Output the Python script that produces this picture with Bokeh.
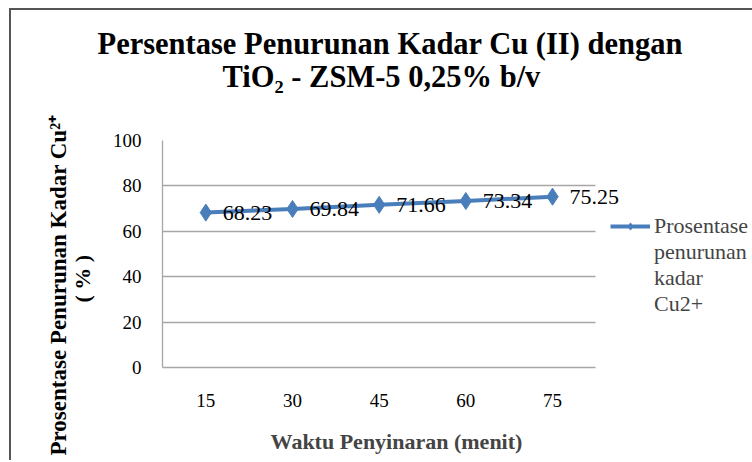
from bokeh.plotting import figure
from bokeh.models import (ColumnDataSource, Range1d, Legend, LegendItem, Title, LabelSet,
                          FixedTicker)
from bokeh.embed import file_html
from bokeh.resources import INLINE

waktu = [15, 30, 45, 60, 75]
persen = [68.23, 69.84, 71.66, 73.34, 75.25]
label_teks = ["68.23", "69.84", "71.66", "73.34", "75.25"]
y_ticks = [0, 20, 40, 60, 80, 100]
legend_lines = ["Prosentase", "penurunan", "kadar", "Cu2+"]

SERIF = "Liberation Serif"
BLUE = "#4A7EBB"
GRID = "#A6A6A6"

src = ColumnDataSource(dict(x=waktu, y=persen, t=label_teks))

p = figure(frame_width=468, frame_height=227, x_range=Range1d(7.5, 88.5), y_range=Range1d(0, 100),
           output_backend="svg", toolbar_location=None,
           min_border_left=151, min_border_right=121, min_border_top=130, min_border_bottom=93)
p.styles = {"border-left": "2px solid #555555", "border-top": "2px solid #555555",
            "margin-left": "9px", "margin-top": "8px"}

p.title.visible = False
p.add_layout(Title(text="TiO\u2082 - ZSM-5 0,25% b/v", align="left", offset=60, text_font=SERIF,
                   text_font_size="30.5px", text_font_style="bold", text_color="black",
                   standoff=94), "above")
p.add_layout(Title(text="Persentase Penurunan Kadar Cu (II) dengan", align="left", offset=-65,
                   text_font=SERIF, text_font_size="30.5px", text_font_style="bold",
                   text_color="black", standoff=-101), "above")

p.outline_line_color = None
p.xgrid.grid_line_color = None
p.ygrid.grid_line_color = GRID
p.ygrid.grid_line_width = 1.3
p.ygrid.cross_bounds = (7.5, 82.5)
p.yaxis.ticker = FixedTicker(ticks=y_ticks)
p.xaxis.ticker = FixedTicker(ticks=waktu)
p.xaxis.bounds = (7.5, 82.5)
for ax in (p.xaxis, p.yaxis):
    ax.axis_line_color = GRID
    ax.axis_line_width = 1.3
    ax.major_tick_line_color = None
    ax.minor_tick_line_color = None
    ax.major_label_text_font = SERIF
    ax.major_label_text_font_size = "19px"
    ax.major_label_text_color = "black"
p.yaxis.major_label_standoff = 15
p.xaxis.major_label_standoff = 20
p.xaxis.axis_label = "Waktu Penyinaran (menit)"
p.xaxis.axis_label_text_font = SERIF
p.xaxis.axis_label_text_font_style = "bold"
p.xaxis.axis_label_text_font_size = "22px"
p.xaxis.axis_label_standoff = 19
p.xaxis.axis_label_align = "center"

# data labels (under the line)
p.add_layout(LabelSet(x="x", y="y", text="t", source=src, x_offset=17, text_baseline="middle",
                      text_font=SERIF, text_font_size="22px", text_color="black",
                      level="glyph"))

ln = p.line(x="x", y="y", source=src, line_color=BLUE, line_width=4)
mk = p.scatter(x="x", y="y", source=src, marker="diamond", size=17,
               fill_color=BLUE, line_color=BLUE)
# placeholder renderer so the legend text can continue below the marker line
blank = p.line(x=[], y=[], line_alpha=0)

# y-axis title (two lines, stacked outward from the axis)
p.add_layout(Title(text="( % )", align="left", offset=65, text_font=SERIF,
                   text_font_size="22px", text_font_style="bold", text_color="black",
                   standoff=30), "left")
p.add_layout(Title(text="Prosentase Penurunan Kadar Cu\u00b2\u207a", align="left", offset=-88,
                   text_font=SERIF, text_font_size="23px", text_font_style="bold",
                   text_color="black", standoff=-36), "left")

items = [LegendItem(label=legend_lines[0], renderers=[ln, mk])]
items += [LegendItem(label=t, renderers=[blank]) for t in legend_lines[1:]]
legend = Legend(items=items, location=(-20, 50), border_line_color=None, background_fill_alpha=0,
                label_text_font=SERIF, label_text_font_size="22px",
                label_height=18, glyph_height=18,
                glyph_width=40, label_standoff=4, padding=0, margin=0, spacing=0)
p.add_layout(legend, "right")

open("out.html", "w").write(file_html(p, INLINE))
